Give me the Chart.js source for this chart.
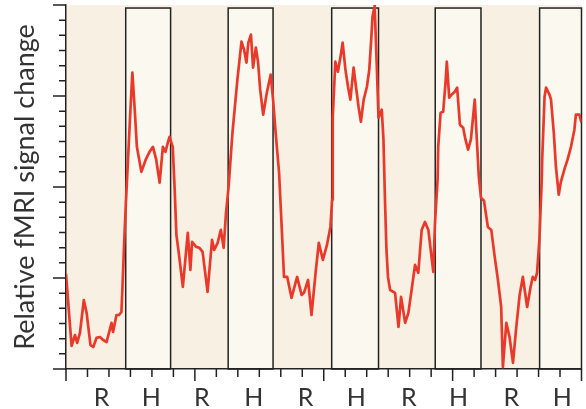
<!DOCTYPE html>
<html>
<head>
<meta charset="utf-8">
<script src="https://cdn.jsdelivr.net/npm/chart.js@4.4.1/dist/chart.umd.min.js"></script>
<style>
  html, body { margin: 0; padding: 0; background: #fff; }
  canvas { display: block; }
</style>
</head>
<body>
<canvas id="myChart" width="586" height="409"></canvas>
<script>
// x = time (tick units), y = signal (tick units)
const time = [
  0.00, 0.26, 0.42, 0.52, 0.65, 0.83, 0.96, 1.14, 1.27, 1.42, 1.58, 1.73, 1.89, 2.12, 2.19, 2.35, 2.47, 2.58, 2.63, 2.70,
  2.78, 3.00, 3.09, 3.20, 3.30, 3.51, 3.71, 3.89, 4.05, 4.20, 4.36, 4.51, 4.63, 4.74, 4.82, 4.97, 5.06, 5.14, 5.25, 5.44,
  5.67, 5.79, 5.87, 6.06, 6.21, 6.36, 6.59, 6.80, 6.90, 7.06, 7.21, 7.34, 7.45, 7.57, 7.75, 7.98, 8.17, 8.29, 8.40, 8.49,
  8.61, 8.71, 8.84, 8.94, 9.04, 9.18, 9.35, 9.53, 9.64, 9.76, 9.92, 10.07, 10.15, 10.30, 10.50, 10.76, 10.97, 11.08, 11.27, 11.43,
  11.62, 11.77, 11.96, 12.15, 12.31, 12.39, 12.42, 12.54, 12.66, 12.78, 12.88, 13.01, 13.13, 13.24, 13.39, 13.50, 13.62, 13.73, 13.86, 14.01,
  14.12, 14.21, 14.27, 14.37, 14.47, 14.55, 14.70, 14.78, 14.85, 14.92, 14.99, 15.09, 15.32, 15.48, 15.60, 15.79, 15.94, 16.09, 16.25, 16.40,
  16.56, 16.71, 16.87, 17.10, 17.18, 17.30, 17.33, 17.44, 17.56, 17.67, 17.73, 17.84, 17.95, 18.10, 18.21, 18.34, 18.49, 18.60, 18.72, 18.85,
  19.03, 19.11, 19.22, 19.32, 19.46, 19.64, 19.80, 19.96, 20.11, 20.26, 20.34, 20.50, 20.65, 20.81, 20.96, 21.12, 21.27, 21.47, 21.63, 21.73,
  21.84, 21.93, 22.04, 22.15, 22.17, 22.28, 22.35, 22.51, 22.58, 22.71, 22.81, 22.94, 23.04, 23.20, 23.35, 23.51, 23.67, 23.74, 23.90, 24.00
];
const signal = [
  6.27, 1.52, 2.24, 1.72, 2.38, 4.55, 3.70, 1.58, 1.45, 2.05, 2.11, 1.91, 1.78, 3.04, 2.44, 3.56, 3.56, 3.76, 5.41, 8.05,
  10.69, 17.10, 19.54, 17.10, 14.65, 13.00, 13.80, 14.32, 14.65, 13.80, 12.28, 14.65, 14.32, 14.92, 15.31, 14.65, 11.82, 8.84, 7.66, 5.41,
  8.98, 6.53, 8.38, 8.05, 7.99, 7.72, 5.08, 8.51, 7.85, 8.32, 9.17, 7.99, 10.30, 12.01, 15.58, 19.08, 21.58, 21.06, 20.20, 21.52,
  22.05, 19.87, 21.19, 20.26, 18.42, 16.77, 18.22, 19.41, 17.76, 15.58, 12.94, 8.51, 6.07, 6.07, 4.69, 6.07, 4.88, 5.02, 5.87, 3.56,
  6.34, 8.32, 7.19, 8.18, 9.37, 11.16, 16.63, 20.26, 19.60, 20.59, 21.52, 19.74, 18.61, 17.76, 19.87, 18.61, 17.29, 16.30, 17.76, 18.61,
  19.74, 21.72, 23.23, 23.95, 19.93, 16.57, 17.10, 15.12, 11.16, 7.85, 6.07, 5.21, 5.02, 2.77, 4.75, 3.04, 3.70, 5.21, 6.86, 6.34,
  9.17, 9.70, 9.17, 6.40, 9.64, 12.48, 14.65, 16.90, 16.96, 18.88, 20.26, 17.89, 18.09, 18.28, 18.55, 16.11, 15.91, 15.12, 14.46, 15.12,
  17.76, 15.58, 12.67, 11.29, 11.09, 9.37, 9.17, 7.39, 5.87, 4.09, 0.13, 3.04, 2.11, 0.40, 2.71, 4.88, 6.07, 4.09, 5.41, 6.07,
  5.87, 6.34, 8.51, 12.48, 13.80, 17.95, 18.55, 18.09, 17.76, 15.58, 13.33, 11.49, 12.34, 13.14, 13.80, 14.65, 15.78, 16.77, 16.77, 16.24
];

// H blocks (boxes), R is in between
const blockStart = [2.78, 7.55, 12.37, 17.19, 22.05];
const blockEnd = [4.87, 9.64, 14.55, 19.32, 24];
const blockTop = 23.8;

// condition labels under the x axis
const labelPos = [1.66, 3.97, 6.32, 8.74, 11.15, 13.52, 15.96, 18.28, 20.73, 23.11];
const labelText = ['R', 'H', 'R', 'H', 'R', 'H', 'R', 'H', 'R', 'H'];

const axisMax = 24;
const majorEvery = 6;

const ink = '#222';

// cream background and the H boxes
const blocks = {
    id: 'blocks',
    beforeDraw(chart) {
        const { ctx, chartArea: a, scales: { x, y } } = chart;
        ctx.save();
        ctx.fillStyle = '#fff';
        ctx.fillRect(0, 0, chart.width, chart.height);
        ctx.fillStyle = '#f8f1e3';
        ctx.fillRect(a.left, a.top, a.right - a.left, a.bottom - a.top);
        ctx.lineWidth = 1.5;
        ctx.strokeStyle = ink;
        for (let i = 0; i < blockStart.length; i++) {
            const x0 = x.getPixelForValue(blockStart[i]);
            const x1 = x.getPixelForValue(blockEnd[i]);
            const y0 = y.getPixelForValue(blockTop);
            const y1 = y.getPixelForValue(0);
            ctx.fillStyle = '#fbf8ef';
            ctx.fillRect(x0, y0, x1 - x0, y1 - y0);
            ctx.strokeRect(x0, y0, x1 - x0, y1 - y0);
        }
        ctx.restore();
    }
};

// minor / major tick marks on both axes
const tickMarks = {
    id: 'tickMarks',
    afterDraw(chart) {
        const { ctx, chartArea: a, scales: { x, y } } = chart;
        ctx.save();
        ctx.strokeStyle = ink;
        ctx.lineWidth = 1.5;
        ctx.beginPath();
        for (let v = 0; v <= axisMax; v++) {
            const major = v % majorEvery === 0;
            const px = x.getPixelForValue(v);
            ctx.moveTo(px, a.bottom);
            ctx.lineTo(px, a.bottom + (major ? 12 : 8));
            const py = y.getPixelForValue(v);
            ctx.moveTo(a.left, py);
            ctx.lineTo(a.left - (major ? 13 : 7), py);
        }
        ctx.stroke();
        ctx.restore();
    }
};

const ctx = document.getElementById('myChart').getContext('2d');

const myChart = new Chart(ctx, {
    type: 'line',
    data: {
        datasets: [{
            data: time.map((t, i) => ({ x: t, y: signal[i] })),
            borderColor: '#e8392b',
            borderWidth: 2.7,
            borderJoinStyle: 'round',
            pointRadius: 0,
            tension: 0,
            fill: false
        }]
    },
    options: {
        responsive: false,
        animation: false,
        layout: {
            padding: { top: 5, right: 2, left: 0, bottom: 0 }
        },
        plugins: {
            legend: { display: false },
            tooltip: { enabled: false }
        },
        scales: {
            x: {
                type: 'linear',
                min: 0,
                max: axisMax,
                afterBuildTicks: (scale) => {
                    scale.ticks = labelPos.map(v => ({ value: v }));
                },
                afterFit: (scale) => { scale.height = 40; },
                ticks: {
                    autoSkip: false,
                    maxRotation: 0,
                    padding: 14,
                    color: '#333',
                    font: { family: 'Lato', size: 25 },
                    callback: (value, index) => labelText[index]
                },
                grid: { display: false, drawTicks: false },
                border: { display: true, color: ink, width: 1.5 }
            },
            y: {
                min: 0,
                max: axisMax,
                afterFit: (scale) => { scale.width = 66; },
                ticks: { display: false, stepSize: 1 },
                grid: { display: false, drawTicks: false },
                border: { display: true, color: ink, width: 1.5 },
                title: {
                    display: true,
                    text: 'Relative fMRI signal change',
                    color: '#333',
                    font: { family: 'Lato', size: 27 },
                    padding: { top: 9, bottom: 0 }
                }
            }
        }
    },
    plugins: [blocks, tickMarks]
});
</script>
</body>
</html>
